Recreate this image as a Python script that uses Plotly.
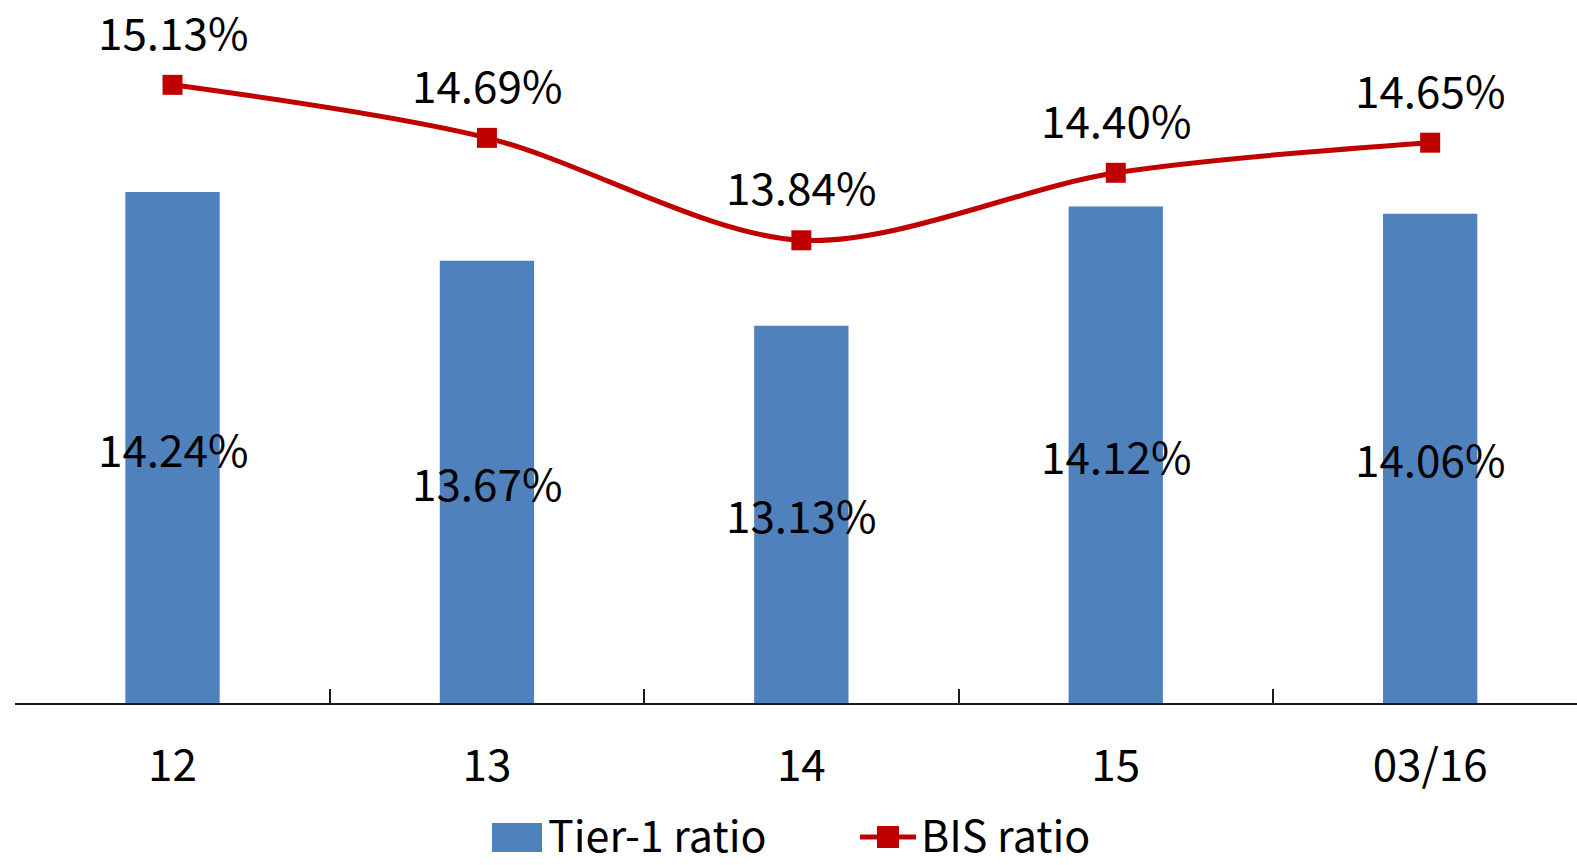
import plotly.graph_objects as go

# Periods and capital-adequacy ratios (%)
periods = ["12", "13", "14", "15", "03/16"]
tier1_ratio = [14.24, 13.67, 13.13, 14.12, 14.06]
bis_ratio = [15.13, 14.69, 13.84, 14.40, 14.65]

W, H = 1577, 865
FONT = "Noto Sans CJK TC"
FS = 44
BLUE = "#4F81BD"
RED = "#C00000"
Y_MIN, Y_MAX = 10, 15.834
PLOT_L, PLOT_B = 15, 703  # plot area left edge and baseline, in pixels

fig = go.Figure()

fig.add_trace(go.Bar(
    x=periods, y=tier1_ratio, name="Tier-1 ratio",
    marker=dict(color=BLUE, line=dict(width=0)),
    width=0.30, showlegend=False, hoverinfo="skip",
))

fig.add_trace(go.Scatter(
    x=periods, y=bis_ratio, name="BIS ratio", mode="lines+markers",
    line=dict(color=RED, width=5, shape="spline", smoothing=0.9),
    marker=dict(symbol="square", size=20, color=RED),
    showlegend=False, hoverinfo="skip",
))

label_font = dict(family=FONT, size=FS, color="#000000")
legend_font = dict(family=FONT, size=43, color="#000000")
annotations = []
# Bar value labels, centred inside each bar (x given as category index)
for i, v in enumerate(tier1_ratio):
    annotations.append(dict(
        x=i, y=(Y_MIN + v) / 2, xref="x", yref="y", text=f"{v:.2f}%",
        showarrow=False, yanchor="middle", yshift=0, height=48,
        font=label_font,
    ))
# Line value labels above each marker
for i, v in enumerate(bis_ratio):
    annotations.append(dict(
        x=i, y=v, xref="x", yref="y", text=f"{v:.2f}%",
        showarrow=False, yanchor="middle", yshift=54, height=48,
        font=label_font,
    ))

# Legend drawn in paper space (paper coords span the plot area)
def px_x(x):
    return (x - PLOT_L) / (W - PLOT_L)

def px_y(y):
    return (PLOT_B - y) / PLOT_B

shapes = [
    dict(type="rect", xref="paper", yref="paper",
         x0=px_x(492), x1=px_x(542), y0=px_y(852), y1=px_y(823),
         fillcolor=BLUE, line=dict(width=0), layer="above"),
    dict(type="line", xref="paper", yref="paper",
         x0=px_x(860), x1=px_x(916), y0=px_y(837), y1=px_y(837),
         line=dict(color=RED, width=5), layer="above"),
    dict(type="rect", xref="paper", yref="paper",
         x0=px_x(877), x1=px_x(899), y0=px_y(848), y1=px_y(826),
         fillcolor=RED, line=dict(width=0), layer="above"),
]
annotations.append(dict(
    x=px_x(546), y=px_y(833), xref="paper", yref="paper", text="Tier-1 ratio",
    showarrow=False, xanchor="left", yanchor="middle", height=46,
    font=legend_font,
))
annotations.append(dict(
    x=px_x(919), y=px_y(833), xref="paper", yref="paper", text="BIS ratio",
    showarrow=False, xanchor="left", yanchor="middle", height=46,
    font=legend_font,
))

fig.update_layout(
    width=W, height=H,
    margin=dict(l=PLOT_L, r=0, t=0, b=H - PLOT_B, pad=0),
    paper_bgcolor="white", plot_bgcolor="white",
    showlegend=False,
    annotations=annotations, shapes=shapes,
    font=dict(family=FONT, size=FS, color="#000000"),
)

fig.update_xaxes(
    type="category", range=[-0.501, 4.467],
    showline=True, linecolor="#1a1a1a", linewidth=2,
    ticks="inside", tickson="boundaries", ticklen=14, tickwidth=1.5,
    tickcolor="#1a1a1a", showgrid=False, zeroline=False,
    tickfont=label_font,
    ticklabelstandoff=23,
)
fig.update_yaxes(range=[Y_MIN, Y_MAX], visible=False, showgrid=False, zeroline=False)

fig.write_html("out.html")
